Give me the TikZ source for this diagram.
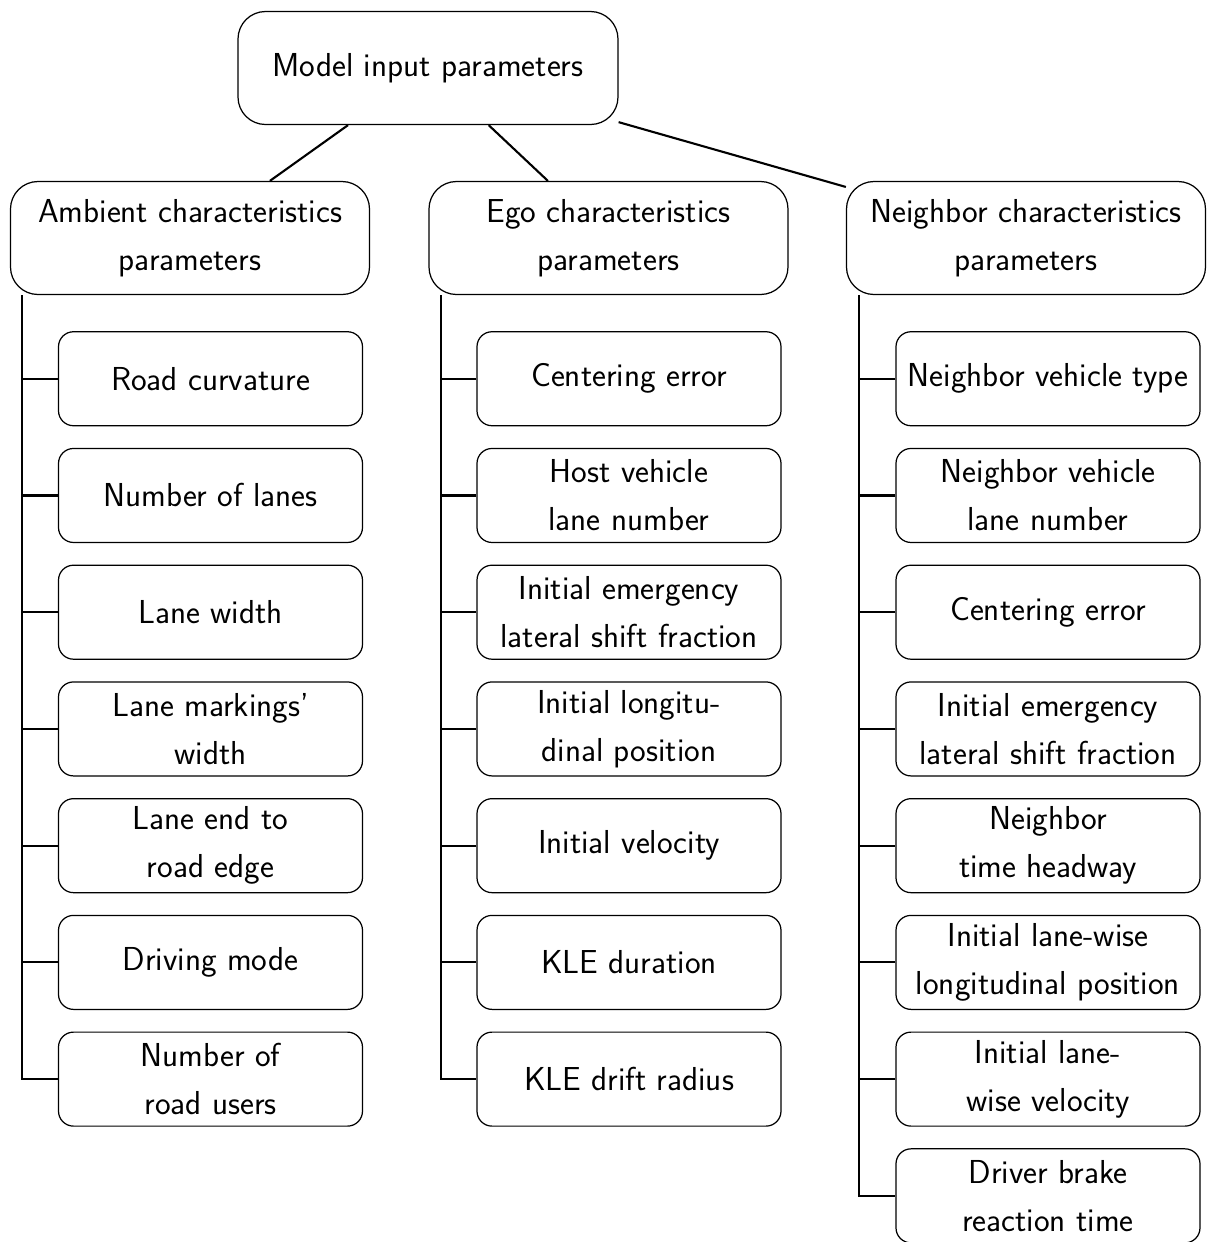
\documentclass[tikz,border=0pt]{standalone}
\usepackage{tikz}
\usetikzlibrary{positioning}

\begin{document}
\begin{tikzpicture}[line width=1.2pt,node distance=0.43cm,
	box/.style={draw,line width=0.7pt,align=center,inner sep=0pt,
		font=\sffamily\fontsize{18.9}{27.3}\selectfont},
	top/.style={box,rounded corners=0.55cm,minimum width=7.6cm,minimum height=2.26cm},
	group/.style={box,rounded corners=0.55cm,minimum width=7.18cm,minimum height=2.26cm},
	leaf/.style={box,rounded corners=0.3cm,minimum width=6.08cm,minimum height=1.88cm}]
	\useasboundingbox (0,0) rectangle (24.14,-24.84);
	\node[top](M) at (8.56,-1.36){Model input parameters};
	\node[group](A) at (3.8,-4.76){Ambient characteristics\\parameters};
	\node[group](E) at (12.17,-4.76){Ego characteristics\\parameters};
	\node[group](N) at (20.52,-4.76){Neighbor characteristics\\parameters};
	
	\node[leaf](A1)[below=0.72cm of A,xshift=0.41cm]{Road curvature};
	\node[leaf](A2)[below=of A1]{Number of lanes};
	\node[leaf](A3)[below=of A2]{Lane width};
	\node[leaf](A4)[below=of A3]{Lane markings'\\width};
	\node[leaf](A5)[below=of A4]{Lane end to\\road edge};
	\node[leaf](A6)[below=of A5]{Driving mode};
	\node[leaf](A7)[below=of A6]{Number of\\road users};
	
	\node[leaf](E1)[below=0.72cm of E,xshift=0.41cm]{Centering error};
	\node[leaf](E2)[below=of E1]{Host vehicle\\lane number};
	\node[leaf](E3)[below=of E2]{Initial emergency\\lateral shift fraction};
	\node[leaf](E4)[below=of E3]{Initial longitu-\\dinal position};
	\node[leaf](E5)[below=of E4]{Initial velocity};
	\node[leaf](E6)[below=of E5]{KLE duration};
	\node[leaf](E7)[below=of E6]{KLE drift radius};
	
	\node[leaf](N1)[below=0.72cm of N,xshift=0.44cm]{Neighbor vehicle type};
	\node[leaf](N2)[below=of N1]{Neighbor vehicle\\lane number};
	\node[leaf](N3)[below=of N2]{Centering error};
	\node[leaf](N4)[below=of N3]{Initial emergency\\lateral shift fraction};
	\node[leaf](N5)[below=of N4]{Neighbor\\time headway};
	\node[leaf](N6)[below=of N5]{Initial lane-wise\\longitudinal position};
	\node[leaf](N7)[below=of N6]{Initial lane-\\wise velocity};
	\node[leaf](N8)[below=of N7]{Driver brake\\reaction time};
	
	\draw (M) -- (A);
	\draw (M) -- (E);
	\draw (M) -- (N);
	
	\draw ([xshift=0.25cm]A.south west) |- (A7.west);
	\draw ([xshift=0.26cm]E.south west) |- (E7.west);
	\draw ([xshift=0.26cm]N.south west) |- (N8.west);
	\foreach \i in {1,...,6}
		\draw (A\i.west) -- ++(-0.72,0) (E\i.west) -- ++(-0.72,0);
	\foreach \i in {1,...,7}
		\draw (N\i.west) -- ++(-0.72,0);
\end{tikzpicture}
\end{document}
